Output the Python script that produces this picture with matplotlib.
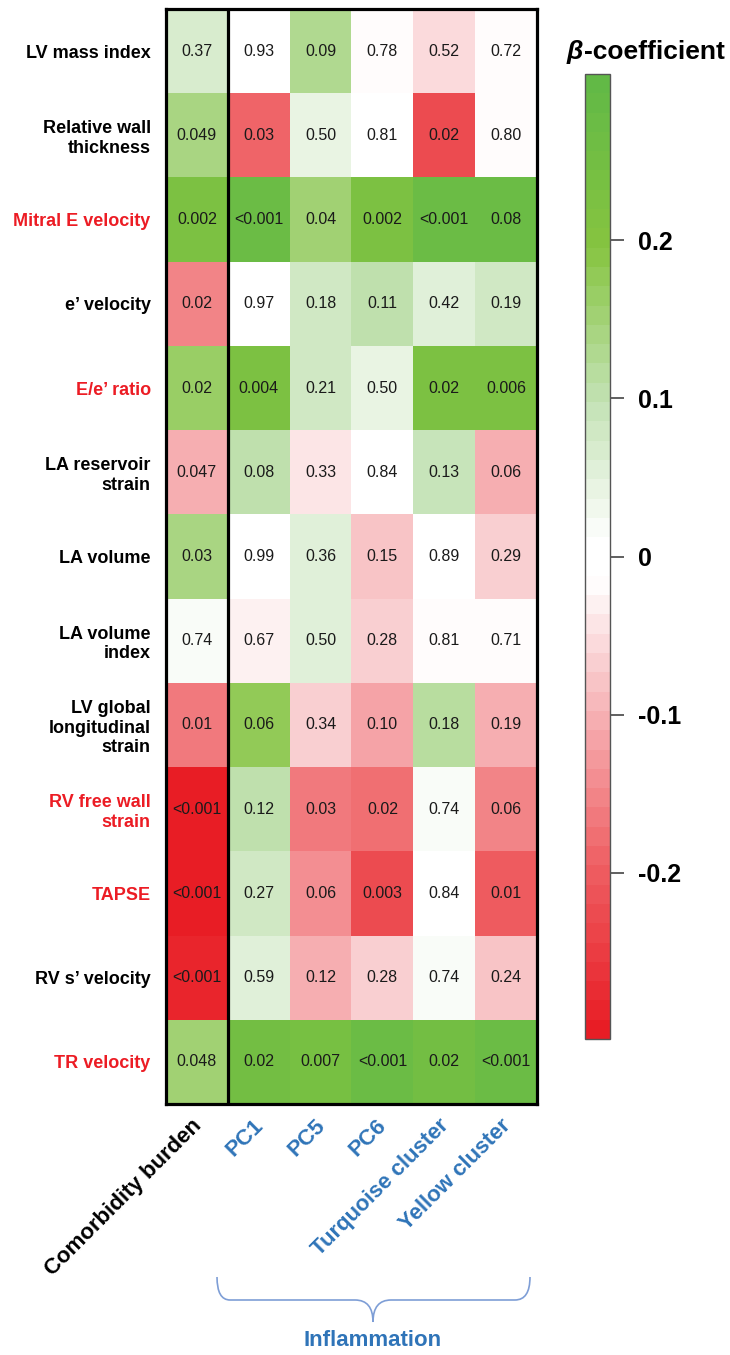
import numpy as np
import matplotlib
matplotlib.use("Agg")
import matplotlib.pyplot as plt
from matplotlib.colors import LinearSegmentedColormap, Normalize
from matplotlib.path import Path
from matplotlib.patches import PathPatch
from matplotlib.colorbar import ColorbarBase

plt.rcParams["font.family"] = ["Liberation Sans", "DejaVu Sans"]

# --- data ---
rows = ["LV mass index", "Relative wall\nthickness", "Mitral E velocity", "e’ velocity",
        "E/e’ ratio", "LA reservoir\nstrain", "LA volume", "LA volume\nindex",
        "LV global\nlongitudinal\nstrain", "RV free wall\nstrain", "TAPSE",
        "RV s’ velocity", "TR velocity"]
red_rows = ["Mitral E velocity", "E/e’ ratio", "RV free wall\nstrain", "TAPSE", "TR velocity"]
cols = ["Comorbidity burden", "PC1", "PC5", "PC6", "Turquoise cluster", "Yellow cluster"]

# beta-coefficients (colour)
beta = np.array([
    [0.07, 0.00, 0.13, -0.015, -0.05, -0.015],
    [0.14, -0.19, 0.04, 0.00, -0.22, -0.015],
    [0.23, 0.27, 0.15, 0.23, 0.27, 0.27],
    [-0.15, 0.00, 0.08, 0.10, 0.06, 0.08],
    [0.17, 0.23, 0.08, 0.04, 0.23, 0.23],
    [-0.10, 0.10, -0.04, 0.00, 0.09, -0.10],
    [0.14, 0.00, 0.06, -0.08, 0.00, -0.07],
    [0.02, -0.03, 0.06, -0.07, -0.015, -0.015],
    [-0.17, 0.18, -0.07, -0.11, 0.12, -0.10],
    [-0.30, 0.10, -0.17, -0.18, 0.02, -0.15],
    [-0.30, 0.08, -0.14, -0.22, 0.00, -0.20],
    [-0.29, 0.05, -0.10, -0.07, 0.015, -0.08],
    [0.15, 0.25, 0.24, 0.27, 0.25, 0.27],
])

# p-values (cell text)
pvals = [
    ["0.37", "0.93", "0.09", "0.78", "0.52", "0.72"],
    ["0.049", "0.03", "0.50", "0.81", "0.02", "0.80"],
    ["0.002", "<0.001", "0.04", "0.002", "<0.001", "0.08"],
    ["0.02", "0.97", "0.18", "0.11", "0.42", "0.19"],
    ["0.02", "0.004", "0.21", "0.50", "0.02", "0.006"],
    ["0.047", "0.08", "0.33", "0.84", "0.13", "0.06"],
    ["0.03", "0.99", "0.36", "0.15", "0.89", "0.29"],
    ["0.74", "0.67", "0.50", "0.28", "0.81", "0.71"],
    ["0.01", "0.06", "0.34", "0.10", "0.18", "0.19"],
    ["<0.001", "0.12", "0.03", "0.02", "0.74", "0.06"],
    ["<0.001", "0.27", "0.06", "0.003", "0.84", "0.01"],
    ["<0.001", "0.59", "0.12", "0.28", "0.74", "0.24"],
    ["0.048", "0.02", "0.007", "<0.001", "0.02", "<0.001"],
]

cbar_ticks = [-0.2, -0.1, 0, 0.1, 0.2]
vmin, vmax = -0.305, 0.305

BLUE = "#2F74B8"
RED = "#EC1C24"

# colour scale: red -> white -> pale green -> yellow green -> green, in bands
stops = [(-0.305, "#E81D25"), (-0.2, "#EE5E62"), (-0.1, "#F6B3B6"), (-0.015, "#FFFFFF"),
         (0.01, "#FFFFFF"), (0.1, "#C3E2B4"), (0.2, "#86C440"), (0.305, "#62B946")]
cmap = LinearSegmentedColormap.from_list(
    "beta", [((v - vmin) / (vmax - vmin), c) for v, c in stops]).resampled(50)
norm = Normalize(vmin=vmin, vmax=vmax)

W, H = 730, 1355
fig = plt.figure(figsize=(W / 100, H / 100), dpi=100)

# --- heatmap ---
ax = fig.add_axes([166 / W, 1 - 1104 / H, 371 / W, 1095 / H])
ax.pcolormesh(np.arange(len(cols) + 1), np.arange(len(rows) + 1), beta, cmap=cmap, norm=norm)
ax.set_xlim(0, len(cols))
ax.set_ylim(len(rows), 0)

for i in range(len(rows)):
    for j in range(len(cols)):
        ax.text(j + 0.5, i + 0.5, pvals[i][j], ha="center", va="center",
                fontsize=11.5, color="#1a1a1a")

ax.set_yticks(np.arange(len(rows)) + 0.5)
ax.set_yticklabels(rows, fontsize=13, fontweight="bold")
for lab, name in zip(ax.get_yticklabels(), rows):
    lab.set_multialignment("right")
    lab.set_color(RED if name in red_rows else "black")
ax.tick_params(axis="y", length=0, pad=11)

ax.set_xticks([])
for j, name in enumerate(cols):
    ax.text(j + 0.40, len(rows) + 0.13, name, rotation=45, ha="right", va="top",
            rotation_mode="anchor", fontsize=16, fontweight="bold",
            color="black" if j == 0 else BLUE)

for s in ax.spines.values():
    s.set_linewidth(2.3)
ax.axvline(1, color="black", lw=2.3)

# --- colour bar ---
cax = fig.add_axes([585 / W, 1 - 1039 / H, 25 / W, 965 / H])
cb = ColorbarBase(cax, cmap=cmap, norm=norm, ticks=cbar_ticks)
cb.outline.set_edgecolor("#555555")
cb.outline.set_linewidth(1.0)
cb.ax.set_yticklabels(["-0.2", "-0.1", "0", "0.1", "0.2"], fontsize=18, fontweight="bold")
cb.ax.tick_params(length=10, width=1.2, color="#444444", pad=10)

fig.text(567 / W, 1 - 52 / H, "β", fontsize=19, fontweight="bold", fontstyle="italic",
         va="center", ha="left")
fig.text(584 / W, 1 - 52 / H, "-coefficient", fontsize=19, fontweight="bold",
         va="center", ha="left")

# --- brace + group label ---
ov = fig.add_axes([0, 0, 1, 1], facecolor="none")
ov.set_xlim(0, W)
ov.set_ylim(H, 0)
ov.axis("off")
verts = [(217, 1277), (217, 1300), (230, 1300), (240, 1300),
         (355, 1300), (373, 1300), (373, 1322),
         (373, 1300), (391, 1300), (505, 1300),
         (515, 1300), (530, 1300), (530, 1277)]
codes = [Path.MOVETO, Path.CURVE3, Path.CURVE3, Path.LINETO,
         Path.LINETO, Path.CURVE3, Path.CURVE3,
         Path.CURVE3, Path.CURVE3, Path.LINETO,
         Path.LINETO, Path.CURVE3, Path.CURVE3]
ov.add_patch(PathPatch(Path(verts, codes), facecolor="none", edgecolor="#7E9ED6", lw=1.2))
ov.text(373, 1340, "Inflammation", ha="center", va="center", fontsize=16,
        fontweight="bold", color=BLUE)

fig.savefig("out.png", dpi=100)
